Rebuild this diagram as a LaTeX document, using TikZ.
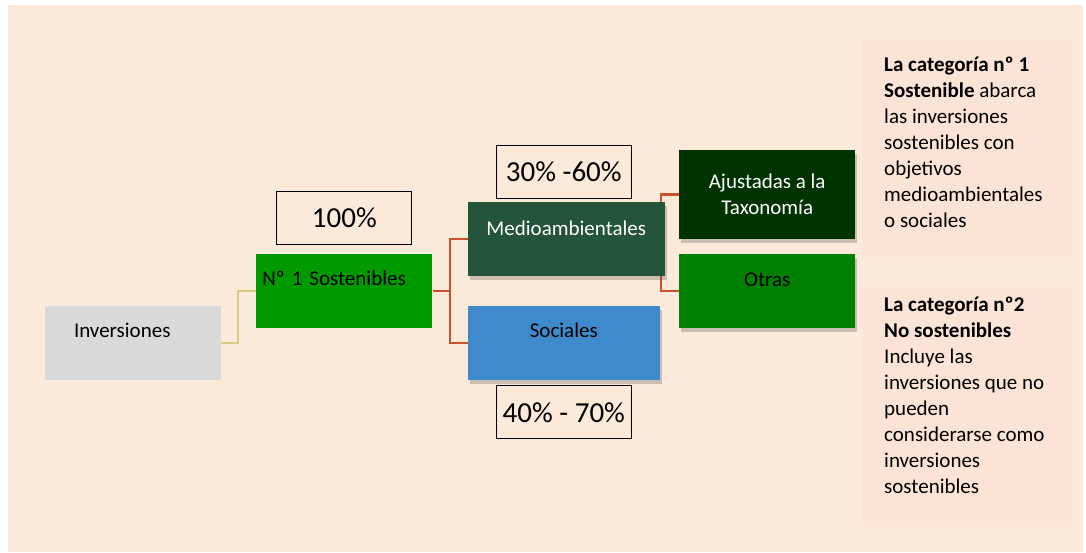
\documentclass[tikz,border=0pt]{standalone}
\usepackage{fontspec}
\setmainfont{Carlito}
\usetikzlibrary{positioning, shadows, backgrounds}
\pgfdeclarelayer{canvas}
\pgfsetlayers{canvas,background,main}
\definecolor{peach}{RGB}{251,233,217}
\definecolor{panelpink}{RGB}{251,228,214}
\definecolor{invgray}{RGB}{217,217,217}
\definecolor{sostgreen}{RGB}{0,153,0}
\definecolor{mediogreen}{RGB}{36,84,58}
\definecolor{socblue}{RGB}{62,138,204}
\definecolor{taxgreen}{RGB}{0,51,0}
\definecolor{otrasgreen}{RGB}{0,127,0}
\definecolor{linkred}{RGB}{200,82,48}
\definecolor{linkyellow}{RGB}{214,202,128}
\tikzset{
    base/.style={font=\fontsize{21}{26}\selectfont, inner xsep=0pt, inner ysep=0pt},
    block/.style={base, rectangle, minimum height=74pt, text centered},
    shadowed/.style={drop shadow={shadow xshift=2pt, shadow yshift=-4pt, opacity=0.28, fill=black!70}},
    percent/.style={rectangle, draw=black, line width=1.1pt, fill=peach, minimum width=135pt, minimum height=53pt, font=\fontsize{29}{32}\selectfont},
    panel/.style={rectangle, fill=panelpink, minimum width=209pt},
    link/.style={line width=2.2pt, color=linkred},
    feed/.style={line width=1.6pt, color=linkyellow}
}

\begin{document}
\begin{tikzpicture}[x=1pt, y=-1pt, node distance=35pt]
        % frame
        \useasboundingbox (0,0) rectangle (1086,552);
        \begin{pgfonlayer}{canvas}
            \fill[peach] (8,5) rectangle (1083,552);
        \end{pgfonlayer}

        % notes on the right
        \node (cat1) [panel, minimum height=217pt, anchor=north west] at (863,40) {};
        \node (cat2) [panel, minimum height=240pt, anchor=north west] at (863,287) {};
        \node (cat1txt) [base, align=left, anchor=north west] at (884,57)
            {\textbf{La categoría nº 1}\\ \textbf{Sostenible} abarca\\ las inversiones\\ sostenibles con\\ objetivos\\ medioambientales\\ o sociales};
        \node (cat2txt) [base, align=left, anchor=north west] at (884,297)
            {\textbf{La categoría nº2}\\ \textbf{No sostenibles}\\ Incluye las\\ inversiones que no\\ pueden\\ considerarse como\\ inversiones\\ sostenibles};

        % tree
        \node (inv) [base, fill=invgray, text width=118pt, inner xsep=29pt, align=left, text height=31pt, text depth=43pt] at (133,343) {Inversiones};
        \node (sost) [base, fill=sostgreen, text width=164pt, inner xsep=6pt, align=left, text height=31.5pt, text depth=42.5pt, right=of inv, yshift=52pt] {Nº 1 Sostenibles};
        \node (medio) [block, fill=mediogreen, shadowed, text=white, minimum width=197pt, text height=33.5pt, text depth=40.5pt, right=of sost, yshift=52pt] {Medioambientales};
        \node (soc) [block, fill=socblue, shadowed, minimum width=192pt, text height=31.5pt, text depth=42.5pt, right=of sost, yshift=-52pt] {Sociales};
        \node (tax) [block, fill=taxgreen, shadowed, text=white, align=center, minimum width=176pt, minimum height=89pt, right=14pt of medio, yshift=44.5pt] {Ajustadas a la\\ Taxonomía};
        \node (otras) [block, fill=otrasgreen, shadowed, minimum width=176pt, text height=32.5pt, text depth=41.5pt, right=14pt of medio, yshift=-52pt] {Otras};

        % shares
        \node (p100) [percent, above=9pt of sost] {100\%};
        \node (p3060) [percent, above=3pt of medio, xshift=-2.5pt] {30\% -60\%};
        \node (p4070) [percent, below=5pt of soc] {40\% - 70\%};

        % links
        \begin{scope}[on background layer]
            \draw [feed] (inv.east) -- ++(17,0) |- (sost.west);
            \draw [link] (sost.east) -- ++(17,0) coordinate (split);
            \draw [link] (split) |- (medio.west);
            \draw [link] (split) |- (soc.west);
            \coordinate (fork) at ([xshift=-4pt]medio.east);
            \draw [link] (tax.west) -| (fork |- tax.west) -- (fork |- otras.west) -- (otras.west);
        \end{scope}
\end{tikzpicture}
\end{document}
